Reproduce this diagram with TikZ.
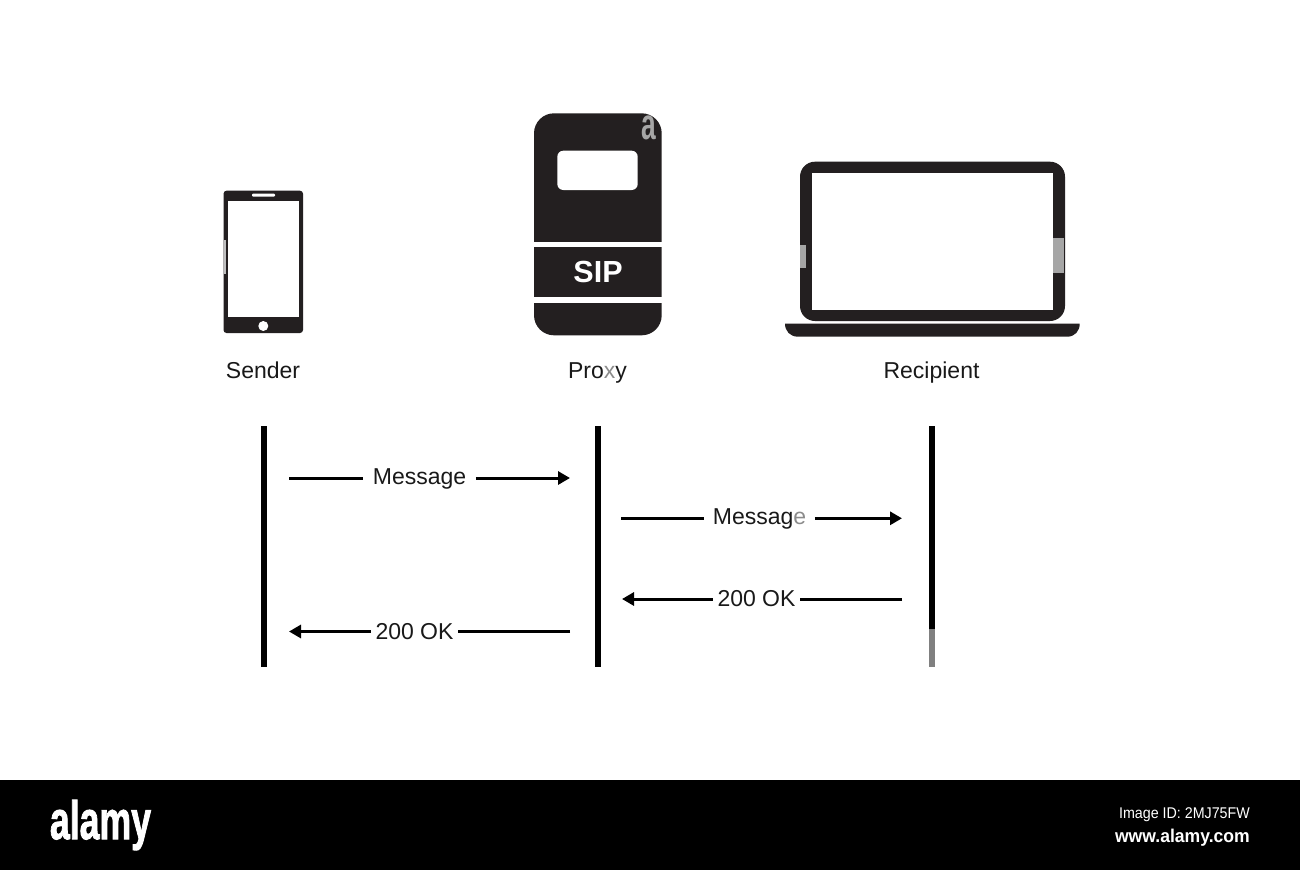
\documentclass[tikz,border=0pt]{standalone}
\usepackage{fontspec}
\setmainfont{Liberation Sans}
\newfontfamily\heavyfont[FakeBold=2]{Liberation Sans Bold}
\usetikzlibrary{arrows.meta}
\definecolor{icon}{HTML}{231F20}
\definecolor{wm}{HTML}{A6A6A6}
\newcommand{\fsz}[1]{\fontsize{#1}{#1}\selectfont}
\tikzset{
  actorlabel/.style={anchor=base,inner sep=0pt,text=black!90,font=\fsz{23}},
  msglabel/.style={anchor=base,inner ysep=0pt,text=black!90,font=\fsz{23}},
  msgwide/.style={msglabel,inner xsep=9.5pt},
  msgnarrow/.style={msglabel,inner xsep=4.5pt},
  lifeline/.style={line width=6.5pt,black},
  msgline/.style={line width=3pt,black},
  msgarrow/.style={msgline,-{Triangle[length=12pt,width=13pt]}},
  iconfill/.style={fill=icon,draw=none},
  holefill/.style={fill=white,draw=none},
  wmpatch/.style={fill=wm,draw=none}
}
\begin{document}
\begin{tikzpicture}[x=1pt,y=-1pt]
\useasboundingbox (0,0) rectangle (1300,870);
\fill[white] (0,0) rectangle (1300,870);
% footer
\fill[black] (0,780) rectangle (1300,870);
\node[anchor=base,inner sep=0pt,text=white,font=\fsz{54}\heavyfont,xscale=0.66] (logo) at (100.5,839) {alamy};
\node[anchor=base east,inner sep=0pt,text=white,font=\fsz{15.5},xscale=0.92] (imgid) at (1250,818) {Image ID: 2MJ75FW};
\node[anchor=base east,inner sep=0pt,text=white,font=\fsz{18.5}\bfseries,xscale=0.95] (site) at (1250,842) {www.alamy.com};
% phone
\fill[iconfill,rounded corners=3pt] (223.5,190.7) rectangle (303,333);
\fill[holefill] (228,200.7) rectangle (299,317);
\fill[holefill,rounded corners=1pt] (252,193.7) rectangle (275,196.7);
\fill[holefill] (263.3,326) circle (5);
\fill[black!25] (224,240) rectangle (226,274);
% proxy
\fill[iconfill,rounded corners=20pt] (534,113.3) rectangle (661.7,335.3);
\fill[holefill,rounded corners=6pt] (557.3,150.7) rectangle (637.7,190);
\fill[holefill] (533,241.7) rectangle (663,247);
\fill[holefill] (533,297.3) rectangle (663,302.7);
\node[anchor=base,inner sep=0pt,text=white,font=\fsz{30.5}\bfseries] (sip) at (598,282.3) {SIP};
\node[anchor=base,inner sep=0pt,text=wm,font=\fsz{44}\bfseries,xscale=0.6] (wmark) at (649,139) {a};
% laptop
\fill[iconfill,rounded corners=15pt] (800,161.7) rectangle (1065,321);
\fill[holefill] (812.3,173) rectangle (1052.7,310.3);
\fill[wmpatch] (800,245) rectangle (805.5,268);
\fill[wmpatch] (1052.7,238) rectangle (1063.5,273);
\fill[iconfill] (785,323.7) -- (1079.7,323.7) .. controls (1079.7,331) and (1075,336.7) .. (1067,336.7) -- (798,336.7) .. controls (790,336.7) and (785,331) .. cycle;
% actor labels
\node[actorlabel] (sender) at (263,378.3) {Sender};
\node[actorlabel] (proxy) at (597.5,378.3) {Pro{\color{black!45}x}y};
\node[actorlabel] (recipient) at (931.5,378.3) {Recipient};
% lifelines
\coordinate (st) at (264,426); \coordinate (sb) at (264,667.3);
\coordinate (pt) at (598,426); \coordinate (pb) at (598,667.3);
\coordinate (rt) at (932,426); \coordinate (rb) at (932,667.3);
\draw[lifeline] (st) -- (sb);
\draw[lifeline] (pt) -- (pb);
\draw[lifeline] (rt) -- (rb);
\fill[black!50] (929,629) rectangle (935.3,667.3);
% message 1
\node[msgwide] (m1) at (419.5,484) {Message};
\coordinate (m1a) at (289,478); \coordinate (m1b) at (570,478);
\draw[msgline] (m1a) -- (m1a -| m1.west);
\draw[msgarrow] (m1b -| m1.east) -- (m1b);
% message 2
\node[msgwide,inner xsep=8.5pt] (m2) at (759.5,524.7) {Messag{\color{black!45}e}};
\coordinate (m2a) at (621,518.3); \coordinate (m2b) at (902,518.3);
\draw[msgline] (m2a) -- (m2a -| m2.west);
\draw[msgarrow] (m2b -| m2.east) -- (m2b);
% 200 OK right
\node[msgnarrow] (k1) at (756.5,606.7) {200 OK};
\coordinate (k1a) at (902,599); \coordinate (k1b) at (622,599);
\draw[msgline] (k1a) -- (k1a -| k1.east);
\draw[msgarrow] (k1b -| k1.west) -- (k1b);
% 200 OK left
\node[msgnarrow] (k2) at (414.5,639.3) {200 OK};
\coordinate (k2a) at (570,631.5); \coordinate (k2b) at (289,631.5);
\draw[msgline] (k2a) -- (k2a -| k2.east);
\draw[msgarrow] (k2b -| k2.west) -- (k2b);
\end{tikzpicture}
\end{document}
